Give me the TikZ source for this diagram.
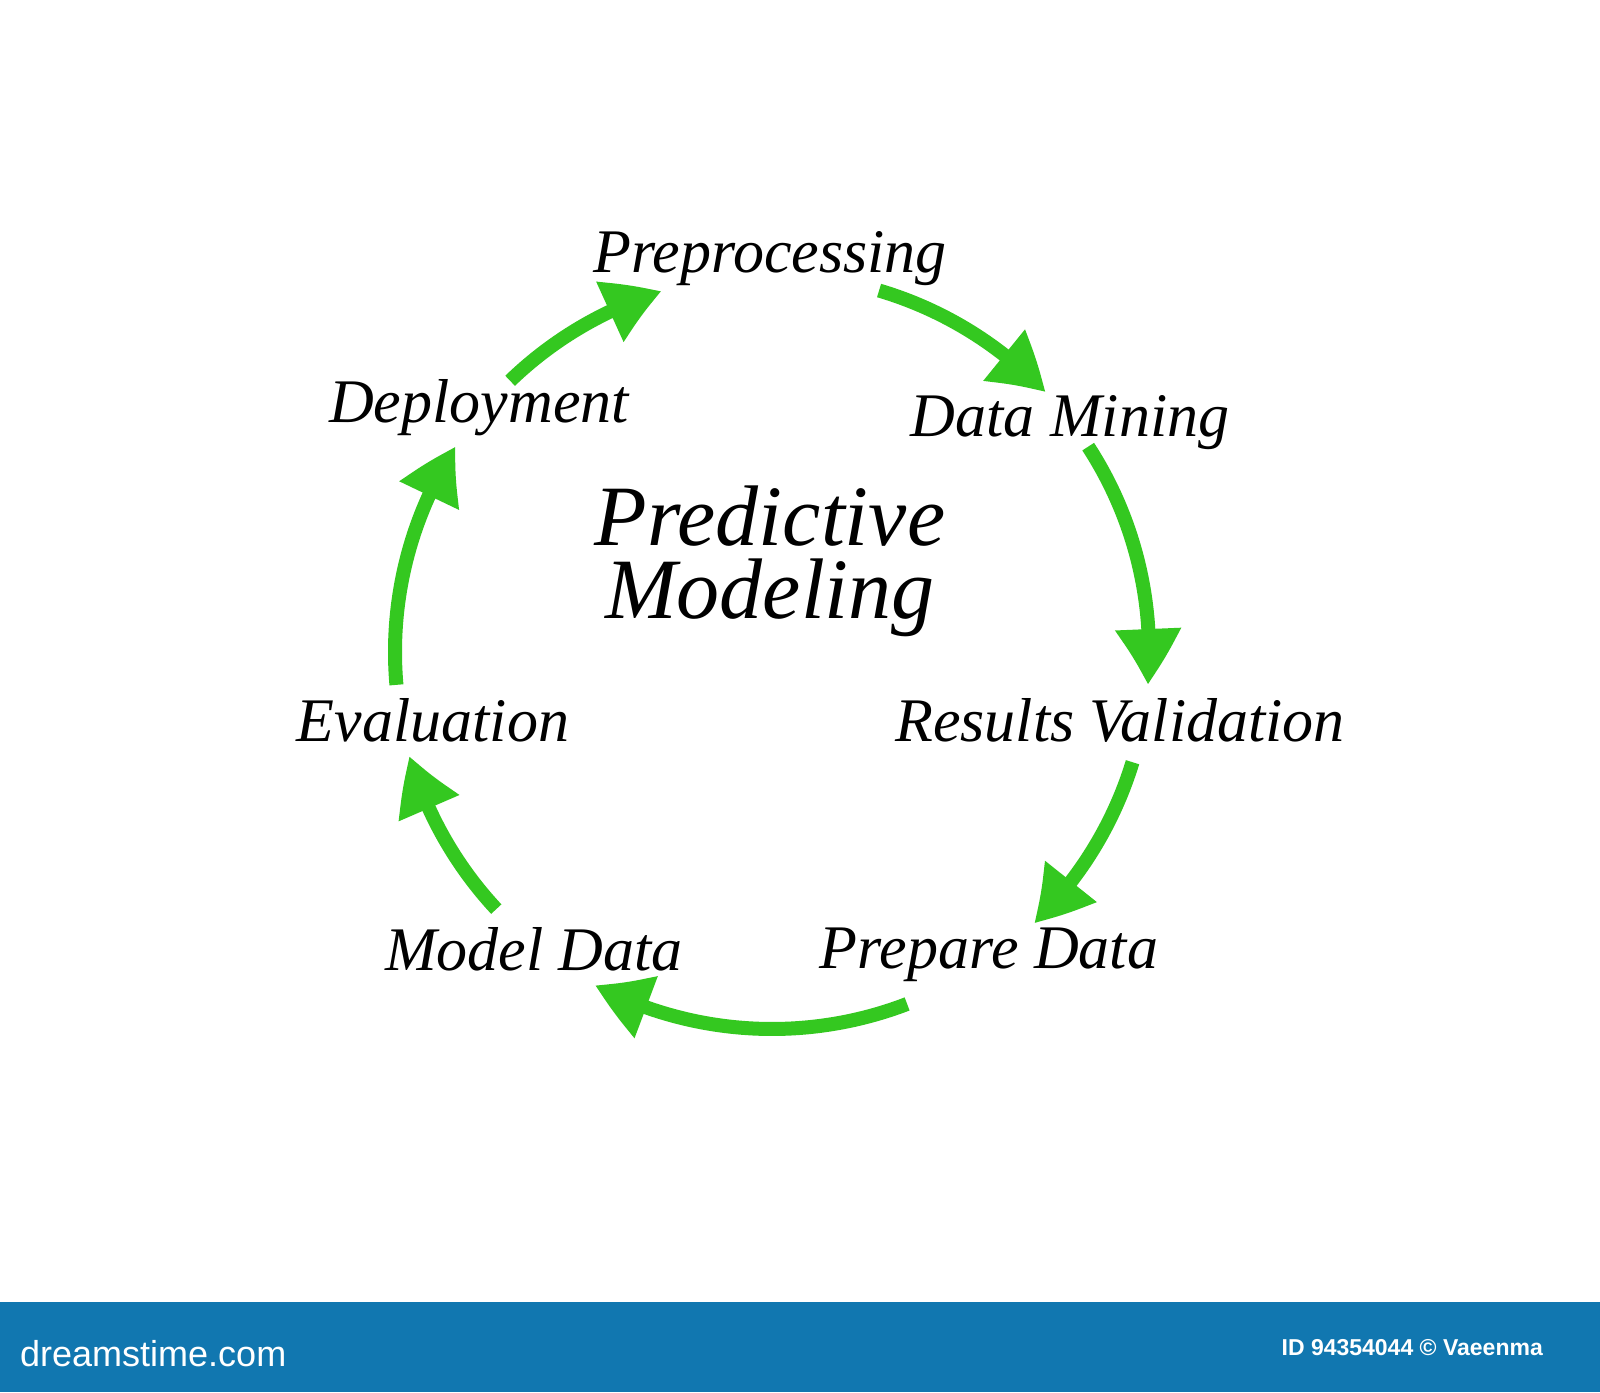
\documentclass[tikz,border=0pt]{standalone}
\usepackage{fontspec}
\setmainfont{Liberation Serif}
\setsansfont{Liberation Sans}
\usetikzlibrary{arrows.meta,bending}
\definecolor{cyclegreen}{RGB}{52,200,32}
\definecolor{barblue}{RGB}{17,119,176}
\tikzset{
  lbl/.style={font=\fontsize{62}{64}\selectfont\itshape, anchor=base, inner sep=0pt},
  title/.style={font=\fontsize{86}{73}\selectfont\itshape, align=center, inner sep=0pt},
  cyc/.style={draw=cyclegreen, line width=14pt, -{Triangle[length=56pt,width=62pt,bend]}, cyclegreen},
}
\begin{document}
\begin{tikzpicture}[x=1pt,y=1pt]
\useasboundingbox (0,0) rectangle (1600,1392);
\fill[white] (0,0) rectangle (1600,1392);
% bottom bar
\fill[barblue] (0,0) rectangle (1600,90);
\node[font=\sffamily\fontsize{36}{38}\selectfont, text=white, anchor=west, inner sep=0pt] (brand) at (20,38) {dreamstime.com};
\node[font=\sffamily\bfseries\fontsize{23}{25}\selectfont, text=white, anchor=east, inner sep=0pt] (credit) at (1543,44) {ID 94354044 © Vaeenma};
% labels
\node[lbl] (pre) at (770,1119) {Preprocessing};
\node[lbl] (dm) at (1070,955) {Data Mining};
\node[lbl] (dep) at (479,969) {Deployment};
\node[title] (t) at (770,831) {Predictive\\Modeling};
\node[lbl] (ev) at (433,650) {Evaluation};
\node[lbl] (rv) at (1120,650) {Results Validation};
\node[lbl] (md) at (534,421) {Model Data};
\node[lbl] (pd) at (989,423) {Prepare Data};
% cycle arrows
\coordinate (c) at (772,740);
\def\R{377}
\draw[cyc] (c) ++(134:\R) arc[start angle=134, end angle=107, radius=\R];
\draw[cyc] (c) ++(73.5:\R) arc[start angle=73.5, end angle=43.5, radius=\R];
\draw[cyc] (c) ++(33:\R) arc[start angle=33, end angle=-5, radius=\R];
\draw[cyc] (c) ++(-17:\R) arc[start angle=-17, end angle=-46, radius=\R];
\draw[cyc] (c) ++(-69:\R) arc[start angle=-69, end angle=-118, radius=\R];
\draw[cyc] (c) ++(-137:\R) arc[start angle=-137, end angle=-164, radius=\R];
\draw[cyc] (c) ++(185:\R) arc[start angle=185, end angle=147, radius=\R];
\end{tikzpicture}
\end{document}
